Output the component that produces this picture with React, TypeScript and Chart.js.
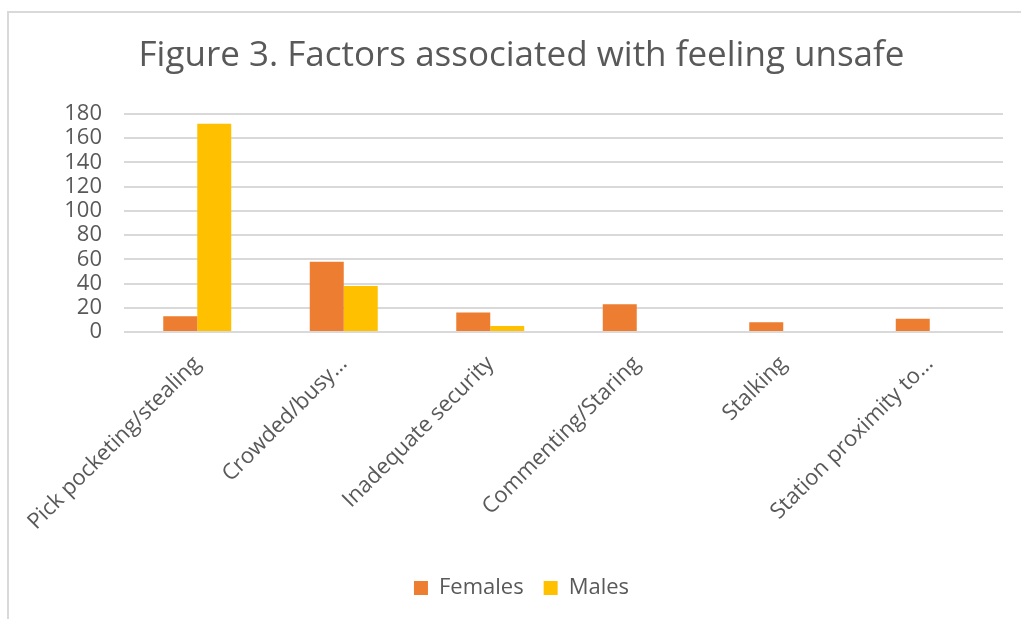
import React, { useEffect, useRef } from "react";
import { Chart, registerables } from "chart.js";

Chart.register(...registerables);

const categories = [
  "Pick pocketing/stealing",
  "Crowded/busy…",
  "Inadequate security",
  "Commenting/Staring",
  "Stalking",
  "Station proximity to…",
];
const females = [13, 58, 16, 23, 8, 11];
const males = [172, 38, 5, 0, 0, 0];
const yTicks = [0, 20, 40, 60, 80, 100, 120, 140, 160, 180];

const FONT = "'Open Sans', 'Noto Sans', sans-serif";
const TEXT = "#595959";

export default function App() {
  const ref = useRef<HTMLCanvasElement | null>(null);

  useEffect(() => {
    if (!ref.current) return;
    const chart = new Chart(ref.current, {
      type: "bar",
      data: {
        labels: categories,
        datasets: [
          { label: "Females", data: females, backgroundColor: "#ED7D31" },
          { label: "Males", data: males, backgroundColor: "#FFC000" },
        ],
      },
      options: {
        animation: false,
        responsive: false,
        maintainAspectRatio: false,
        layout: { padding: { left: 40, right: 18, top: 0, bottom: 10 } },
        datasets: { bar: { categoryPercentage: 0.464, barPercentage: 1 } },
        plugins: {
          title: {
            display: true,
            text: "Figure 3. Factors associated with feeling unsafe",
            color: TEXT,
            font: { family: FONT, size: 35, weight: "normal" },
            padding: { top: 35, bottom: 37 },
          },
          legend: {
            position: "bottom",
            labels: {
              color: TEXT,
              font: { family: FONT, size: 22 },
              boxWidth: 14,
              boxHeight: 14,
              padding: 20,
            },
          },
          tooltip: { enabled: false },
        },
        scales: {
          x: {
            grid: { display: false },
            border: { display: false },
            ticks: {
              color: TEXT,
              font: { family: FONT, size: 22 },
              minRotation: 45,
              maxRotation: 45,
              autoSkip: false,
              padding: 11,
            },
            afterFit: (s: any) => {
              s.height = 225;
            },
          },
          y: {
            min: 0,
            max: 180,
            afterBuildTicks: (s: any) => {
              s.ticks = yTicks.map((v) => ({ value: v }));
            },
            grid: { color: "#d9d9d9", lineWidth: 2, drawTicks: false },
            border: { display: false },
            ticks: {
              color: TEXT,
              font: { family: FONT, size: 22 },
              padding: 22,
              autoSkip: false,
            },
            afterFit: (s: any) => {
              s.width = 84;
            },
          },
        },
      },
    });
    return () => chart.destroy();
  }, []);

  return (
    <div
      style={{
        position: "fixed",
        left: 0,
        top: 0,
        width: 1021,
        height: 619,
        background: "#fff",
        overflow: "hidden",
      }}
    >
      <div
        style={{
          position: "absolute",
          left: 7,
          top: 11,
          width: 1100,
          height: 700,
          borderLeft: "2px solid #d9d9d9",
          borderTop: "2px solid #d9d9d9",
        }}
      />
      <canvas
        ref={ref}
        width={1021}
        height={619}
        style={{ position: "absolute", left: 0, top: 0 }}
      />
    </div>
  );
}
